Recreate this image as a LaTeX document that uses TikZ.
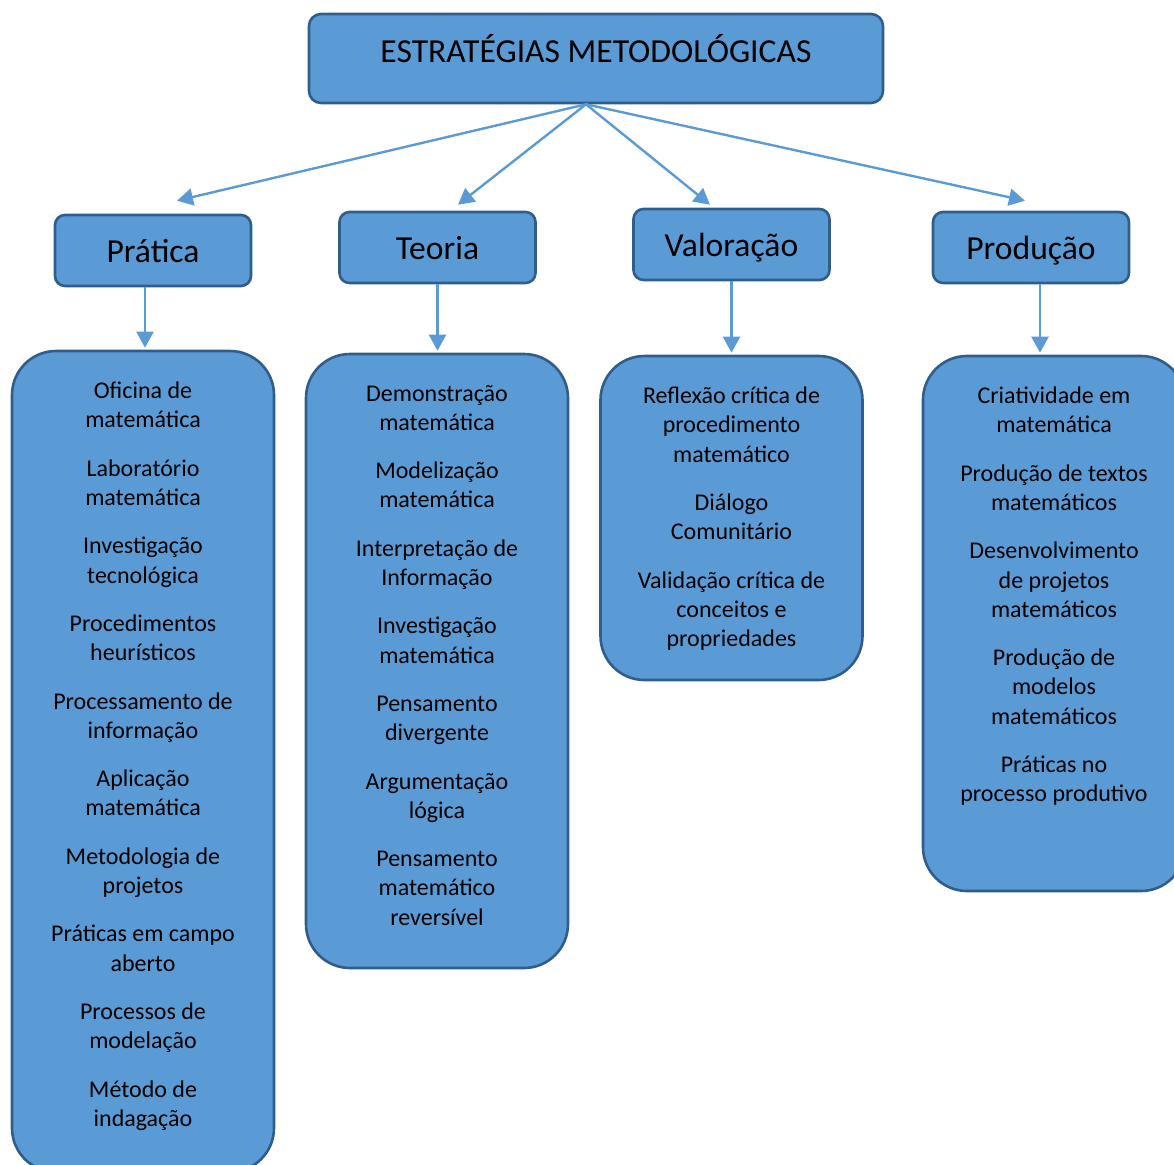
\documentclass[tikz,border=0pt]{standalone}
\usepackage{fontspec}
\setmainfont{Carlito}
\usepackage{tikz}
\usetikzlibrary{
arrows.meta,
positioning
}
\definecolor{esblue}{HTML}{5B9BD5}
\definecolor{esedge}{HTML}{2F5D8C}
\definecolor{esarrow}{HTML}{5B9BD5}

\newcommand{\listfont}{\fontsize{12}{14.6}\selectfont}
\newcommand{\itemgap}{\\[9.6pt]}

\begin{document}
\begin{tikzpicture}[
  x=0.5pt, y=-0.5pt,
  >={Triangle[length=8pt, width=8.5pt]},
  topbox/.style={
    draw=esedge, fill=esblue, line width=1.3pt, rounded corners=6pt,
    minimum width=287pt, minimum height=44.5pt,
    font=\fontsize{16.8}{20}\selectfont,
    text height=11pt, text depth=7.5pt
  },
  catbox/.style={
    draw=esedge, fill=esblue, line width=1.3pt, rounded corners=5pt,
    minimum width=98pt, minimum height=35.5pt,
    font=\fontsize{16.8}{20}\selectfont,
    text height=12.5pt, text depth=1pt
  },
  listbox/.style={
    draw=esedge, fill=esblue, line width=1.3pt, rounded corners=22pt,
    minimum width=131pt, inner sep=0pt
  },
  listtxt/.style={
    anchor=north, inner sep=0pt, align=center, font=\listfont
  },
  link/.style={->, esarrow, line width=1.2pt}
]
\useasboundingbox (0,0) rectangle (1174,1164);
\clip (0,0) rectangle (1174,1164);

%% ============================================================
%%  TOP
%% ============================================================
\node[topbox] (top) at (596, 58.5) {ESTRATÉGIAS METODOLÓGICAS};
\coordinate (hub) at ([xshift=-5pt]top.south);

%% ============================================================
%%  CATEGORIES
%% ============================================================
\node[catbox] (prat) at (153, 250.5) {Prática};
\node[catbox] (teor) at (437.5, 247.5) {Teoria};
\node[catbox] (val)  at (731.5, 244.5) {Valoração};
\node[catbox] (prod) at (1031, 247.5) {Produção};

%% Arrows: top -> categories
\draw[link] (hub) -- ([shift={(24,-13)}]prat.north);
\draw[link] (hub) -- ([shift={(20.5,-6)}]teor.north);
\draw[link] (hub) -- ([shift={(-21.5,-3)}]val.north);
\draw[link] (hub) -- ([shift={(-6,-10)}]prod.north);

%% ============================================================
%%  LISTS
%% ============================================================
\node[listbox, minimum height=410.5pt] (pratl) at (143, 761.5) {};
\node[listtxt] (pratt) at ([yshift=-16pt]pratl.north)
  {Oficina de\\matemática\itemgap
   Laboratório\\matemática\itemgap
   Investigação\\tecnológica\itemgap
   Procedimentos\\heurísticos\itemgap
   Processamento de\\informação\itemgap
   Aplicação\\matemática\itemgap
   Metodologia de\\projetos\itemgap
   Práticas em campo\\aberto\itemgap
   Processos de\\modelação\itemgap
   Método de\\indagação};

\node[listbox, minimum height=307pt] (teorl) at (437, 661) {};
\node[listtxt] (teort) at ([yshift=-16pt]teorl.north)
  {Demonstração\\matemática\itemgap
   Modelização\\matemática\itemgap
   Interpretação de\\Informação\itemgap
   Investigação\\matemática\itemgap
   Pensamento\\divergente\itemgap
   Argumentação\\lógica\itemgap
   Pensamento\\matemático\\reversível};

\node[listbox, minimum height=162pt] (vall) at (731.5, 518) {};
\node[listtxt] (valt) at ([yshift=-16pt]vall.north)
  {Reflexão crítica de\\procedimento\\matemático\itemgap
   Diálogo\\Comunitário\itemgap
   Validação crítica de\\conceitos e\\propriedades};

\node[listbox, minimum height=267.5pt] (prodl) at (1054, 623.5) {};
\node[listtxt] (prodt) at ([yshift=-16pt]prodl.north)
  {Criatividade em\\matemática\itemgap
   Produção de textos\\matemáticos\itemgap
   Desenvolvimento\\de projetos\\matemáticos\itemgap
   Produção de\\modelos\\matemáticos\itemgap
   Práticas no\\processo produtivo};

%% Arrows: categories -> lists
\draw[link, shorten >=1pt]
  ([xshift=-4pt]prat.south) -- ([xshift=-4pt]prat.south |- pratl.north);
\draw[link, shorten >=1pt]
  (teor.south) -- (teor.south |- teorl.north);
\draw[link, shorten >=1pt]
  (val.south) -- (val.south |- vall.north);
\draw[link, shorten >=1pt]
  ([xshift=4.5pt]prod.south) -- ([xshift=4.5pt]prod.south |- prodl.north);

\end{tikzpicture}
\end{document}
